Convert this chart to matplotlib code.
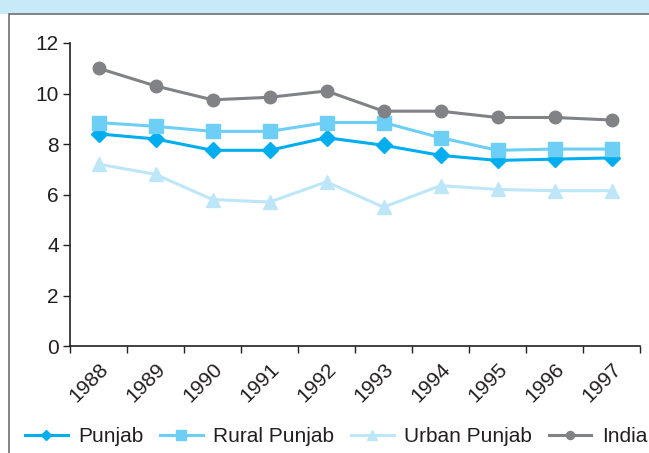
import numpy as np
import matplotlib.pyplot as plt
from matplotlib.patches import Rectangle

plt.rcParams['font.family'] = ['Liberation Sans', 'DejaVu Sans']

years = ['1988', '1989', '1990', '1991', '1992', '1993', '1994', '1995', '1996', '1997']
punjab = [8.4, 8.2, 7.75, 7.75, 8.25, 7.95, 7.55, 7.35, 7.4, 7.45]
rural_punjab = [8.85, 8.7, 8.5, 8.5, 8.85, 8.85, 8.25, 7.75, 7.8, 7.8]
urban_punjab = [7.2, 6.8, 5.8, 5.7, 6.5, 5.5, 6.35, 6.2, 6.15, 6.15]
india = [11.0, 10.3, 9.75, 9.85, 10.1, 9.3, 9.3, 9.05, 9.05, 8.95]

W, H = 649, 453
fig = plt.figure(figsize=(W / 100, H / 100), dpi=100)

# light blue band and frame
fig.patches.append(Rectangle((0, 1 - 14 / H), 1, 14 / H, transform=fig.transFigure,
                             facecolor='#c8eaf8', edgecolor='none', zorder=0))
fig.patches.append(Rectangle((9 / W, -0.1), 1.1, 1 - 14 / H + 0.1, transform=fig.transFigure,
                             facecolor='none', edgecolor='#6d6e71', lw=1.2, zorder=0))

ax = fig.add_axes([70 / W, 107 / H, 570 / W, 303 / H])
ax.patch.set_alpha(0)
x = np.arange(len(years))

ax.plot(x, punjab, color='#00aeef', lw=2.2, marker='D', ms=8, label='Punjab')
ax.plot(x, rural_punjab, color='#6dcff6', lw=2.2, marker='s', ms=10, label='Rural Punjab')
ax.plot(x, urban_punjab, color='#bde6f9', lw=2.2, marker='^', ms=10, label='Urban Punjab')
ax.plot(x, india, color='#808285', lw=2.2, marker='o', ms=9, label='India')

ax.set_xlim(-0.5, len(years) - 0.5)
ax.set_ylim(0, 12)
ax.set_yticks(range(0, 13, 2))
ax.set_xticks(np.arange(-0.5, len(years), 1))
ax.set_xticklabels([])
ax.set_xticks(x, minor=True)
ax.set_xticklabels(years, minor=True, rotation=45, ha='right', va='top',
                   rotation_mode='anchor')
ax.tick_params(axis='x', which='minor', length=0, pad=10, labelsize=15, labelcolor='#231f20')
ax.tick_params(axis='x', which='major', length=5, width=1, color='#231f20')
ax.tick_params(axis='y', length=5, width=1, color='#231f20', labelsize=15,
               labelcolor='#231f20', pad=3)
for s in ['top', 'right']:
    ax.spines[s].set_visible(False)
for s in ['left', 'bottom']:
    ax.spines[s].set_color('#231f20')
    ax.spines[s].set_linewidth(1.2)

fig.legend(loc='center', bbox_to_anchor=(336 / W, 1 - 437 / H), ncol=4, frameon=False,
           fontsize=15, handlelength=2.05, columnspacing=0.8, handletextpad=0.5,
           markerscale=0.65, labelcolor='#231f20')

fig.savefig('out.png', dpi=100)
